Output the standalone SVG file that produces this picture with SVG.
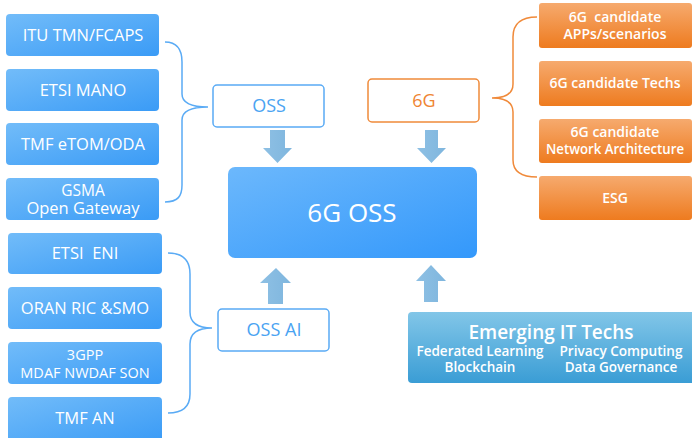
<svg xmlns="http://www.w3.org/2000/svg" width="692" height="438" viewBox="0 0 692 438">
<defs>
<linearGradient id="gBlue" x1="0" y1="0" x2="1" y2="1"><stop offset="0" stop-color="#72bcf9"/><stop offset="1" stop-color="#3a9bf6"/></linearGradient>
<linearGradient id="gMain" x1="0" y1="0" x2="1" y2="1"><stop offset="0" stop-color="#6cb8fc"/><stop offset="1" stop-color="#3398fb"/></linearGradient>
<linearGradient id="gOrange" x1="0" y1="0" x2="0" y2="1"><stop offset="0" stop-color="#f6aa6e"/><stop offset="1" stop-color="#ee7b1f"/></linearGradient>
<linearGradient id="gTeal" x1="0" y1="0" x2="0" y2="1"><stop offset="0" stop-color="#82c6e8"/><stop offset="1" stop-color="#3a9dd5"/></linearGradient>
<linearGradient id="gArrow" x1="0" y1="0" x2="1" y2="0"><stop offset="0" stop-color="#8ec0e4"/><stop offset="1" stop-color="#7fb6de"/></linearGradient>
</defs>
<style>
text{font-family:"Open Sans","Noto Sans","DejaVu Sans",sans-serif;text-anchor:middle;}
.bb{fill:url(#gBlue);}
.ob{fill:url(#gOrange);}
.wt{fill:#ffffff;font-size:16.5px;}
.wt2{fill:#ffffff;font-size:14.5px;}
.ot{fill:#ffffff;font-size:14px;font-weight:600;}
.et{fill:#ffffff;font-size:13.5px;font-weight:600;}
.br{fill:none;stroke-width:1.5;}
.arr{fill:url(#gArrow);}
</style>
<g id="itu"><rect class="bb" x="6" y="14" width="153" height="42" rx="4"/><text class="wt" x="83" y="41">ITU TMN/FCAPS</text></g>
<g id="mano"><rect class="bb" x="6" y="69" width="153" height="42" rx="4"/><text class="wt" x="83" y="96">ETSI MANO</text></g>
<g id="tmf"><rect class="bb" x="6" y="123" width="153" height="42" rx="4"/><text class="wt" x="83" y="150">TMF eTOM/ODA</text></g>
<g id="gsma"><rect class="bb" x="6" y="178" width="153" height="42" rx="4"/><text class="wt" x="83" y="196" style="font-size:15.5px">GSMA</text><text class="wt" x="83" y="214">Open Gateway</text></g>
<g id="eni"><rect class="bb" x="8" y="233" width="154" height="41" rx="4"/><text class="wt" x="85" y="259">ETSI&#160; ENI</text></g>
<g id="oran"><rect class="bb" x="8" y="287" width="154" height="42" rx="4"/><text class="wt" x="85" y="314">ORAN RIC &amp;SMO</text></g>
<g id="gpp"><rect class="bb" x="8" y="342" width="154" height="42" rx="4"/><text class="wt2" x="85" y="360">3GPP</text><text class="wt2" x="85" y="378">MDAF NWDAF SON</text></g>
<g id="tmfan"><rect class="bb" x="8" y="397" width="154" height="45" rx="4"/><text class="wt" x="85" y="424">TMF AN</text></g>
<g id="oss"><rect x="213" y="85" width="111" height="42" rx="4" fill="#ffffff" stroke="#5aabf5" stroke-width="1.5"/><text x="269" y="112" font-size="18" fill="#4aa3f2">OSS</text></g>
<g id="g6"><rect x="368" y="79" width="111" height="43" rx="4" fill="#ffffff" stroke="#f08a3a" stroke-width="1.5"/><text x="424" y="107" font-size="18" fill="#ef8533">6G</text></g>
<g id="ossai"><rect x="218" y="309" width="111" height="42" rx="4" fill="#ffffff" stroke="#5aabf5" stroke-width="1.5"/><text x="274" y="336" font-size="18" fill="#4aa3f2">OSS AI</text></g>
<g id="main"><rect x="228" y="167" width="249" height="91" rx="7" fill="url(#gMain)"/><text x="352" y="222" font-size="26" fill="#ffffff">6G OSS</text></g>
<g id="app"><rect class="ob" x="539" y="3" width="153" height="45" rx="3"/><text class="ot" x="615" y="22">6G&#160; candidate</text><text class="ot" x="615" y="39">APPs/scenarios</text></g>
<g id="techs"><rect class="ob" x="539" y="61" width="153" height="45" rx="3"/><text class="ot" x="615" y="88">6G candidate Techs</text></g>
<g id="arch"><rect class="ob" x="539" y="119" width="153" height="44" rx="3"/><text class="ot" x="615" y="137">6G candidate</text><text class="ot" x="615" y="154" textLength="138" lengthAdjust="spacingAndGlyphs">Network Architecture</text></g>
<g id="esg"><rect class="ob" x="539" y="176" width="153" height="44" rx="3"/><text class="ot" x="615" y="203">ESG</text></g>
<g id="emerging"><rect x="408" y="312" width="290" height="71" rx="4" fill="url(#gTeal)"/><text x="551" y="339" font-size="19" fill="#ffffff" font-weight="600">Emerging IT Techs</text><text class="et" x="480" y="356" textLength="127" lengthAdjust="spacingAndGlyphs">Federated Learning</text><text class="et" x="621" y="356" textLength="123" lengthAdjust="spacingAndGlyphs">Privacy Computing</text><text class="et" x="480" y="372">Blockchain</text><text class="et" x="621" y="372">Data Governance</text></g>
<g id="connectors">
<path class="br" stroke="#5aabf5" d="M165,42 C178,42 182,50 182,62 L182,94 C182,103 190,107 208,107 C190,107 182,111 182,120 L182,185 C182,196 178,202 165,202"/>
<path class="br" stroke="#5aabf5" d="M168,253 C184,253 190,262 190,274 L190,312 C190,322 196,328 212,328 C196,328 190,334 190,344 L190,394 C190,406 184,413 168,413"/>
<path class="br" stroke="#f08a3a" d="M537,17 C520,17 513,25 513,37 L513,84 C513,93 506,98 492,98 C506,98 513,103 513,112 L513,160 C513,171 520,177 537,177"/>
<path class="arr" d="M270,130 H285 V148 H292 L277.5,163 L263,148 H270 Z"/>
<path class="arr" d="M425,130 H438 V148 H446 L431.5,163 L417,148 H425 Z"/>
<path class="arr" d="M268,304 H283 V283 H291 L276,268 L260,283 H268 Z"/>
<path class="arr" d="M424,302 H438 V281 H446 L431,265 L416,281 H424 Z"/>
</g>
</svg>
